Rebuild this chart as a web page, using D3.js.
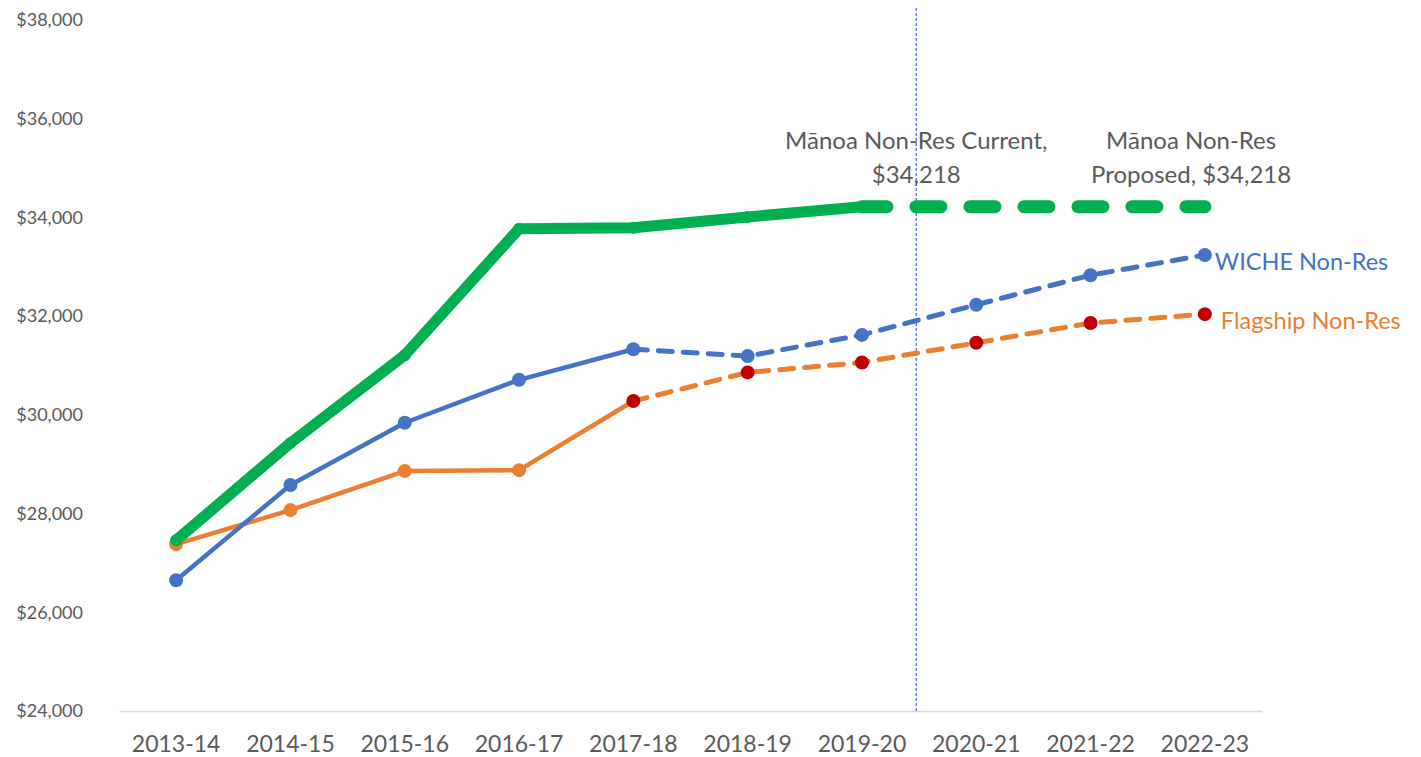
<!DOCTYPE html>
<html>
<head>
<meta charset="utf-8">
<script src="https://cdn.jsdelivr.net/npm/d3@7"></script>
<style>
  html, body { margin: 0; padding: 0; background: #fff; }
  svg { display: block; font-family: Lato, "Open Sans", sans-serif; }
</style>
</head>
<body>
<svg id="chart" width="1421" height="757"></svg>
<script>
const years = ["2013-14","2014-15","2015-16","2016-17","2017-18","2018-19","2019-20","2020-21","2021-22","2022-23"];
const manoa    = [27460, 29430, 31210, 33770, 33790, 34010, 34218, 34218, 34218, 34218];
const wiche    = [26650, 28580, 29840, 30710, 31330, 31190, 31620, 32230, 32830, 33240];
const flagship = [27380, 28070, 28860, 28880, 30280, 30860, 31060, 31460, 31860, 32040];
const yTicks = [24000, 26000, 28000, 30000, 32000, 34000, 36000, 38000];
const manoaSolidEnd = "2019-20";
const projSolidEnd = "2017-18";
const dividerAfter = "2019-20";
const annotCurrent = ["Mānoa Non-Res Current,", "$34,218"];
const annotProposed = ["Mānoa Non-Res", "Proposed, $34,218"];
const wicheLabel = "WICHE Non-Res";
const flagshipLabel = "Flagship Non-Res";

const svg = d3.select("#chart");
const mLeft = 119, mRight = 1262, mTop = 20, mBottom = 711;

const x = d3.scaleBand().domain(years).range([mLeft, mRight]);
const cx = d => x(d) + x.bandwidth() / 2;
const y = d3.scaleLinear().domain([24000, 38000]).range([mBottom, mTop]);

const GREEN = "#00B050", BLUE = "#4472C4", ORANGE = "#ED7D31", RED = "#C00000", GRAY = "#595959";

// Y axis
const yAxis = svg.append("g")
  .attr("transform", `translate(${mLeft - 36},0)`)
  .call(d3.axisLeft(y).tickValues(yTicks).tickSize(0).tickPadding(0).tickFormat(d => "$" + d3.format(",")(d)));
yAxis.select(".domain").remove();
yAxis.selectAll("text").attr("fill", GRAY).style("font-size", "18px").style("font-family", "Lato, sans-serif");

// X axis
const xAxis = svg.append("g")
  .attr("transform", `translate(0,${mBottom})`)
  .call(d3.axisBottom(x).tickSize(0).tickPadding(25));
xAxis.select(".domain").attr("stroke", "#D9D9D9").attr("stroke-width", 1.5);
xAxis.selectAll("text").attr("fill", GRAY).style("font-size", "23px").style("font-family", "Lato, sans-serif");

// divider line
const divX = cx(dividerAfter) + x.step() * 0.475;
svg.append("line")
  .attr("x1", divX).attr("x2", divX).attr("y1", 8).attr("y2", mBottom)
  .attr("stroke", BLUE).attr("stroke-width", 1.3).attr("stroke-dasharray", "3,2");

function series(vals) { return years.map((yr, i) => ({yr, v: vals[i]})); }
const line = d3.line().x(d => cx(d.yr)).y(d => y(d.v));

function drawSeries(vals, solidEnd, color, width, dash, markerR, markerColorFn) {
  const data = series(vals);
  const k = years.indexOf(solidEnd);
  const g = svg.append("g");
  g.append("path").datum(data.slice(0, k + 1)).attr("d", line)
    .attr("fill", "none").attr("stroke", color).attr("stroke-width", width)
    .attr("stroke-linejoin", "round").attr("stroke-linecap", "round");
  g.append("path").datum(data.slice(k)).attr("d", line)
    .attr("fill", "none").attr("stroke", color).attr("stroke-width", width + (width > 8 ? 2 : 0.5))
    .attr("stroke-dasharray", dash)
    .attr("stroke-linejoin", "round").attr("stroke-linecap", "round");
  g.selectAll("circle").data(data).join("circle")
    .attr("cx", d => cx(d.yr)).attr("cy", d => y(d.v)).attr("r", markerR)
    .attr("fill", (d, i) => markerColorFn(i, k));
}

drawSeries(flagship, projSolidEnd, ORANGE, 4.5, "14,11", 7, (i, k) => i >= k ? RED : ORANGE);
drawSeries(wiche, projSolidEnd, BLUE, 4.5, "14,11", 7, () => BLUE);
drawSeries(manoa, manoaSolidEnd, GREEN, 11, "25,29", 6, () => GREEN);

// annotations
function annot(lines, xc, y0, color, anchor) {
  const t = svg.append("text").attr("fill", color).attr("text-anchor", anchor)
    .style("font-size", "24px").style("font-family", "Lato, sans-serif");
  lines.forEach((s, i) => t.append("tspan").attr("x", xc).attr("y", y0 + i * 34).text(s));
}
annot(annotCurrent, divX, 149, GRAY, "middle");
annot(annotProposed, cx("2021-22") + x.step() * 0.88, 149, GRAY, "middle");

const last = years[years.length - 1];
svg.append("text").attr("x", cx(last) + 10).attr("y", y(wiche[wiche.length - 1]) + 15)
  .attr("fill", BLUE).style("font-size", "23.5px").text(wicheLabel);
svg.append("text").attr("x", cx(last) + 16).attr("y", y(flagship[flagship.length - 1]) + 15)
  .attr("fill", ORANGE).style("font-size", "23.5px").text(flagshipLabel);
</script>
</body>
</html>
